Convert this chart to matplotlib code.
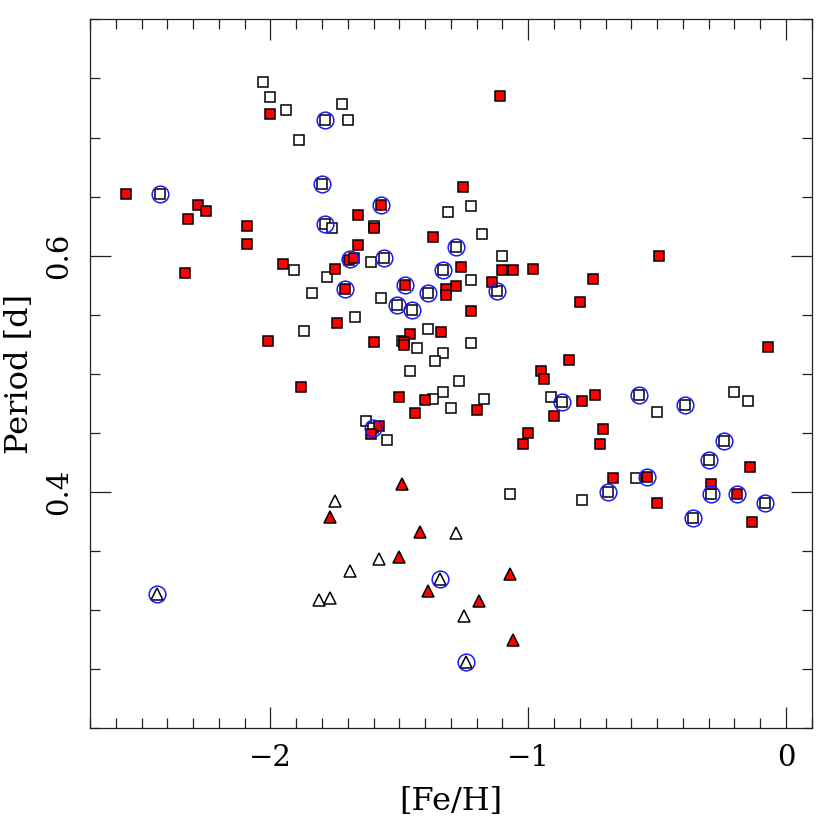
import matplotlib
matplotlib.use("Agg")
import matplotlib.pyplot as plt
from matplotlib.ticker import MultipleLocator

plt.rcParams['font.family'] = ['DejaVu Serif']

# red filled squares
red_sq_feh = [-2.000, -2.560, -2.280, -2.250, -2.321, -2.090, -2.090, -2.330, -1.570, -1.660,
              -1.598, -1.660, -1.369, -1.251, -1.110, -0.491, -1.259, -1.100, -1.060, -0.981,
              -1.140, -0.749, -1.280, -1.320, -1.320, -1.220, -0.799, -1.749, -1.950, -1.695,
              -1.676, -1.710, -1.479, -1.740, -2.010, -1.600, -1.460, -1.480, -1.480, -1.339,
              -0.070, -0.843, -0.949, -0.939, -1.880, -1.500, -1.400, -1.439, -1.199, -0.791,
              -0.740, -0.900, -1.579, -1.610, -0.710, -0.720, -1.000, -1.020, -0.139, -0.670,
              -0.540, -0.289, -0.189, -0.499, -0.130]
red_sq_per = [0.720, 0.652, 0.643, 0.638, 0.631, 0.625, 0.610, 0.585, 0.643, 0.634,
              0.623, 0.609, 0.616, 0.658, 0.735, 0.600, 0.590, 0.588, 0.588, 0.589,
              0.578, 0.580, 0.574, 0.572, 0.567, 0.553, 0.561, 0.589, 0.593, 0.596,
              0.598, 0.572, 0.575, 0.543, 0.528, 0.527, 0.534, 0.527, 0.524, 0.535,
              0.523, 0.512, 0.502, 0.496, 0.489, 0.480, 0.478, 0.467, 0.469, 0.477,
              0.482, 0.464, 0.456, 0.449, 0.453, 0.441, 0.450, 0.441, 0.421, 0.412,
              0.413, 0.407, 0.398, 0.391, 0.375]

# open squares
open_sq_feh = [-2.030, -2.000, -1.939, -1.721, -1.790, -1.700, -1.890, -2.430, -1.799, -1.790,
               -1.760, -1.598, -1.220, -1.310, -1.180, -1.279, -1.100, -1.610, -1.559, -1.329,
               -1.220, -1.120, -1.780, -1.910, -1.840, -1.570, -1.510, -1.450, -1.390, -1.670,
               -1.870, -1.390, -1.491, -1.430, -1.220, -1.329, -1.360, -1.459, -1.269, -1.329,
               -1.368, -1.299, -1.170, -0.910, -0.870, -0.570, -0.500, -0.390, -0.201, -0.149,
               -1.629, -1.601, -1.549, -0.240, -0.299, -0.580, -0.689, -1.070, -0.790, -0.289,
               -0.081, -0.359]
open_sq_per = [0.747, 0.734, 0.723, 0.728, 0.715, 0.715, 0.698, 0.652, 0.661, 0.627,
               0.623, 0.625, 0.642, 0.637, 0.618, 0.607, 0.600, 0.595, 0.598, 0.588,
               0.579, 0.570, 0.582, 0.588, 0.568, 0.564, 0.558, 0.554, 0.568, 0.548,
               0.536, 0.538, 0.528, 0.522, 0.526, 0.518, 0.511, 0.502, 0.494, 0.485,
               0.479, 0.471, 0.479, 0.480, 0.476, 0.482, 0.468, 0.474, 0.485, 0.477,
               0.460, 0.454, 0.444, 0.443, 0.427, 0.412, 0.400, 0.398, 0.393, 0.398,
               0.391, 0.378]

# red filled triangles
red_tri_feh = [-1.490, -1.770, -1.421, -1.500, -1.070, -1.390, -1.190, -1.060]
red_tri_per = [0.407, 0.379, 0.366, 0.345, 0.331, 0.316, 0.308, 0.275]

# open triangles
open_tri_feh = [-1.749, -1.280, -1.580, -1.690, -1.341, -1.810, -1.769, -2.440, -1.250, -1.241]
open_tri_per = [0.392, 0.365, 0.343, 0.333, 0.326, 0.309, 0.310, 0.314, 0.295, 0.256]

# stars marked with a blue circle
circ_feh = [-1.790, -2.430, -1.799, -1.790, -1.570, -1.279, -1.691, -1.559, -1.329, -1.710,
            -1.479, -1.390, -1.120, -1.510, -1.450, -1.601, -0.870, -0.570, -0.390, -0.240,
            -0.299, -0.540, -0.689, -0.289, -0.189, -0.081, -0.359, -1.341, -2.440, -1.241]
circ_per = [0.715, 0.652, 0.661, 0.627, 0.643, 0.607, 0.597, 0.598, 0.588, 0.572,
            0.575, 0.568, 0.570, 0.558, 0.554, 0.454, 0.476, 0.482, 0.474, 0.443,
            0.427, 0.413, 0.400, 0.398, 0.398, 0.391, 0.378, 0.326, 0.314, 0.256]

fig = plt.figure(figsize=(8.3, 8.3), dpi=100)
ax = fig.add_axes([0.1084, 0.1225, 0.8696, 0.8542])

sq = dict(marker='s', ms=7.0, mec='black', mew=1.1, ls='none')
tri = dict(marker='^', ms=8.5, mec='black', mew=1.1, ls='none')

ax.plot(open_sq_feh, open_sq_per, mfc='white', **sq)
ax.plot(red_sq_feh, red_sq_per, mfc='red', **sq)
ax.plot(open_tri_feh, open_tri_per, mfc='white', **tri)
ax.plot(red_tri_feh, red_tri_per, mfc='red', **tri)
ax.plot(circ_feh, circ_per, marker='o', ms=12, mfc='none', mec='#1a1aff', mew=1.1, ls='none')

ax.set_xlim(-2.7, 0.1)
ax.set_ylim(0.2, 0.8)
ax.xaxis.set_major_locator(MultipleLocator(1))
ax.xaxis.set_minor_locator(MultipleLocator(0.1))
ax.yaxis.set_major_locator(MultipleLocator(0.2))
ax.yaxis.set_minor_locator(MultipleLocator(0.05))
ax.set_yticks([0.4, 0.6])
ax.set_yticklabels(['0.4', '0.6'])

ax.tick_params(which='both', direction='in', top=True, right=True, width=0.9, color='#222222')
ax.tick_params(which='major', length=15, labelsize=21)
ax.tick_params(which='minor', length=7.5)
ax.tick_params(axis='x', pad=11)
ax.tick_params(axis='y', pad=12)
for lab in ax.get_yticklabels():
    lab.set_rotation(90)
    lab.set_va('center')
for sp in ax.spines.values():
    sp.set_linewidth(0.9)
    sp.set_color('#222222')

ax.set_xlabel('[Fe/H]', fontsize=23)
ax.set_ylabel('Period [d]', fontsize=23)
ax.xaxis.set_label_coords(0.5, -0.082)
ax.yaxis.set_label_coords(-0.076, 0.5)

fig.savefig('out.png', dpi=100)
